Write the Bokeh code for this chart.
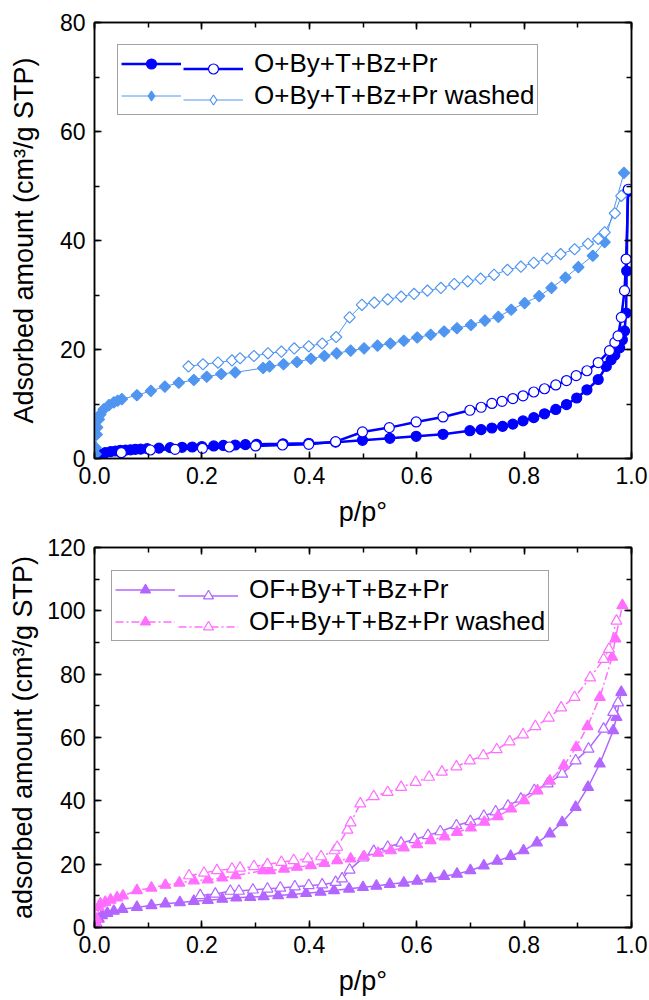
from bokeh.plotting import figure
from bokeh.models import (Range1d, LinearAxis, SingleIntervalTicker, NumeralTickFormatter,
                          Legend, LegendItem, ColumnDataSource)
from bokeh.layouts import column
from bokeh.embed import file_html
from bokeh.resources import INLINE

# ---------------- data: top panel ----------------
top_series_names = ["O+By+T+Bz+Pr", "O+By+T+Bz+Pr washed"]

o_ads_x = [0.004, 0.011, 0.020, 0.030, 0.039, 0.048, 0.058, 0.067, 0.076, 0.086, 0.098, 0.120,
           0.141, 0.163, 0.182, 0.200, 0.222, 0.240, 0.262, 0.281, 0.302, 0.351, 0.399, 0.449,
           0.499, 0.550, 0.599, 0.649, 0.699, 0.720, 0.740, 0.760, 0.779, 0.798, 0.818, 0.838,
           0.859, 0.879, 0.898, 0.917, 0.938, 0.953, 0.962, 0.969, 0.978, 0.983, 0.987, 0.990,
           0.991, 0.993]
o_ads_y = [0.5, 0.77, 1.07, 1.26, 1.38, 1.5, 1.55, 1.6, 1.69, 1.72, 1.81, 1.9, 1.99, 2.05, 2.11,
           2.2, 2.3, 2.4, 2.48, 2.55, 2.6, 2.7, 2.8, 3.0, 3.34, 3.71, 4.07, 4.44, 5.1, 5.3, 5.6,
           5.9, 6.3, 6.9, 7.5, 8.2, 9.0, 9.9, 11.1, 12.6, 14.5, 16.9, 18.1, 19.0, 20.3, 21.8,
           23.4, 26.7, 34.4, 49.0]

o_des_x = [0.050, 0.104, 0.150, 0.201, 0.251, 0.300, 0.350, 0.399, 0.449, 0.499, 0.549, 0.599,
           0.649, 0.699, 0.720, 0.740, 0.759, 0.779, 0.798, 0.818, 0.838, 0.859, 0.879, 0.897,
           0.917, 0.938, 0.959, 0.969, 0.975, 0.981, 0.987, 0.990, 0.994]
o_des_y = [1.07, 1.56, 1.69, 1.87, 2.11, 2.30, 2.48, 2.60, 3.09, 4.87, 5.67, 6.71, 7.63, 8.85,
           9.4, 10.1, 10.5, 11.0, 11.5, 12.2, 12.8, 13.5, 14.3, 15.2, 16.1, 17.6, 19.8, 21.3,
           22.5, 25.9, 30.8, 36.6, 49.4]

ow_ads_x = [0.002, 0.002, 0.004, 0.005, 0.008, 0.011, 0.017, 0.027, 0.036, 0.043, 0.051, 0.079,
            0.105, 0.131, 0.157, 0.185, 0.209, 0.236, 0.262, 0.314, 0.326, 0.352, 0.377, 0.403,
            0.428, 0.451, 0.477, 0.502, 0.527, 0.551, 0.576, 0.601, 0.626, 0.651, 0.675, 0.701,
            0.727, 0.752, 0.776, 0.801, 0.828, 0.851, 0.877, 0.901, 0.928, 0.950, 0.986]
ow_ads_y = [0.8, 2.0, 4.4, 5.7, 7.2, 8.1, 9.0, 9.8, 10.3, 10.6, 10.9, 11.6, 12.4, 13.2, 13.9,
            14.4, 15.0, 15.5, 15.8, 16.6, 16.9, 17.3, 17.7, 18.3, 18.8, 19.3, 19.8, 20.2, 20.7,
            21.1, 21.6, 22.2, 22.7, 23.3, 23.9, 24.5, 25.3, 26.0, 27.3, 28.5, 29.8, 31.3, 33.2,
            35.1, 37.2, 39.7, 52.4]

ow_des_x = [0.175, 0.202, 0.230, 0.256, 0.271, 0.297, 0.323, 0.348, 0.372, 0.399, 0.424, 0.450,
            0.475, 0.498, 0.521, 0.546, 0.571, 0.595, 0.620, 0.645, 0.670, 0.695, 0.719, 0.744,
            0.769, 0.794, 0.818, 0.843, 0.868, 0.894, 0.919, 0.938, 0.950, 0.969, 0.981]
ow_des_y = [16.9, 17.3, 17.6, 18.0, 18.4, 18.8, 19.3, 19.6, 20.2, 20.6, 21.1, 22.3, 25.9, 28.2,
            28.6, 29.2, 29.7, 30.2, 30.8, 31.3, 32.0, 32.5, 33.0, 33.7, 34.6, 35.2, 35.9, 36.7,
            37.5, 38.4, 39.4, 40.3, 41.5, 45.0, 48.2]

# ---------------- data: bottom panel ----------------
bottom_series_names = ["OF+By+T+Bz+Pr", "OF+By+T+Bz+Pr washed"]

of_ads_x = [0.002, 0.004, 0.008, 0.014, 0.024, 0.036, 0.052, 0.079, 0.106, 0.132, 0.159, 0.185,
            0.211, 0.238, 0.264, 0.290, 0.315, 0.342, 0.368, 0.394, 0.421, 0.446, 0.474, 0.500,
            0.525, 0.550, 0.576, 0.601, 0.626, 0.651, 0.675, 0.700, 0.725, 0.750, 0.775, 0.799,
            0.824, 0.848, 0.871, 0.896, 0.919, 0.941, 0.966, 0.972, 0.981]
of_ads_y = [0.8, 1.2, 2.7, 3.8, 4.5, 5.2, 5.8, 6.4, 6.95, 7.5, 7.9, 8.3, 8.6, 9.0, 9.4, 9.6, 9.8,
            10.1, 10.4, 10.8, 11.2, 11.7, 12.2, 12.7, 13.1, 13.7, 14.1, 14.7, 15.4, 16.2, 16.9,
            18.0, 19.5, 21.0, 22.5, 24.3, 26.8, 29.6, 33.2, 38.0, 44.3, 51.7, 62.2, 66.4, 74.3]

of_des_x = [0.197, 0.225, 0.253, 0.269, 0.295, 0.322, 0.346, 0.373, 0.399, 0.424, 0.449, 0.461,
            0.475, 0.500, 0.520, 0.546, 0.571, 0.596, 0.621, 0.644, 0.674, 0.700, 0.725, 0.747,
            0.770, 0.794, 0.819, 0.844, 0.871, 0.896, 0.920, 0.948, 0.966, 0.975]
of_des_y = [10.1, 10.6, 11.5, 11.5, 11.9, 12.2, 12.5, 12.9, 13.3, 13.5, 14.3, 15.4, 18.2, 22.0,
            24.1, 25.4, 26.7, 27.8, 29.1, 30.3, 32.2, 33.5, 35.2, 36.6, 38.4, 40.6, 43.3, 45.4,
            48.5, 52.7, 56.4, 62.7, 68.0, 71.0]

ofw_ads_x = [0.002, 0.004, 0.008, 0.011, 0.020, 0.030, 0.042, 0.053, 0.079, 0.106, 0.132, 0.158,
             0.185, 0.211, 0.238, 0.263, 0.314, 0.327, 0.353, 0.377, 0.403, 0.428, 0.452, 0.477,
             0.502, 0.528, 0.552, 0.576, 0.601, 0.626, 0.652, 0.675, 0.701, 0.726, 0.751, 0.776,
             0.800, 0.825, 0.848, 0.874, 0.897, 0.918, 0.941, 0.964, 0.970, 0.983]
ofw_ads_y = [1.5, 2.7, 6.4, 7.5, 8.0, 8.7, 9.4, 10.0, 11.7, 12.5, 13.4, 14.1, 14.8, 15.1, 15.7,
             16.4, 18.0, 18.0, 18.5, 19.1, 19.6, 20.3, 21.2, 21.7, 22.4, 23.5, 24.3, 25.2, 26.2,
             27.5, 28.7, 30.1, 31.5, 33.3, 35.1, 37.5, 40.1, 43.2, 46.3, 51.1, 56.9, 63.5, 72.7,
             85.4, 91.2, 101.7]

ofw_des_x = [0.176, 0.204, 0.228, 0.256, 0.271, 0.297, 0.322, 0.348, 0.371, 0.397, 0.422, 0.447,
             0.452, 0.471, 0.477, 0.495, 0.520, 0.546, 0.571, 0.598, 0.623, 0.647, 0.674, 0.699,
             0.724, 0.749, 0.773, 0.798, 0.821, 0.846, 0.869, 0.894, 0.923, 0.948, 0.958, 0.972]
ofw_des_y = [16.4, 17.2, 18.0, 18.5, 18.8, 19.3, 19.9, 20.6, 21.2, 21.7, 22.4, 24.3, 25.4, 30.8,
             33.1, 39.1, 41.4, 42.7, 44.3, 45.9, 47.5, 49.1, 50.8, 52.7, 54.3, 56.2, 58.7, 60.9,
             63.5, 66.2, 69.4, 72.7, 78.9, 84.7, 87.9, 96.8]

x_title = "p/p°"
top_y_title = "Adsorbed amount (cm³/g STP)"
bottom_y_title = "adsorbed amount (cm³/g STP)"

# ---------------- styling ----------------
FONT = "Liberation Sans"
W = 649
FRAME_LEFT = 94
FRAME_RIGHT_BORDER = 18
C_BLUE = "#0000FF"
C_LBLUE = "#5096F0"
C_PURPLE = "#B266FF"
C_PINK = "#FF6EFF"


def style_axis(ax, interval, fmt, show_labels=True):
    ax.ticker = SingleIntervalTicker(interval=interval, num_minor_ticks=2)
    ax.formatter = NumeralTickFormatter(format=fmt)
    ax.major_tick_in = 7
    ax.major_tick_out = 0
    ax.minor_tick_in = 5
    ax.minor_tick_out = 0
    ax.axis_line_width = 1.5
    ax.major_tick_line_width = 1.5
    ax.minor_tick_line_width = 1.5
    ax.axis_line_color = "black"
    ax.major_tick_line_color = "black"
    ax.minor_tick_line_color = "black"
    ax.major_label_text_font = FONT
    if show_labels:
        ax.major_label_text_font_size = "23px"
        ax.major_label_text_color = "black"
    else:
        # mirror axis: ticks only, labels not painted
        ax.major_label_text_font_size = "10px"
        ax.major_label_text_color = None
        ax.major_label_standoff = 0
    ax.axis_label_text_font = FONT
    ax.axis_label_text_font_size = "27px"
    ax.axis_label_text_font_style = "normal"
    ax.axis_label_text_color = "black"


def make_fig(height, ymax, border_top, border_bottom, ylabel, ylabel_standoff):
    p = figure(width=W, height=height, x_range=Range1d(0, 1), y_range=Range1d(0, ymax),
               output_backend="svg", toolbar_location=None,
               min_border_left=FRAME_LEFT, min_border_right=FRAME_RIGHT_BORDER,
               min_border_top=border_top, min_border_bottom=border_bottom)
    p.grid.visible = False
    p.outline_line_color = "black"
    p.outline_line_width = 1.5
    p.background_fill_color = "white"
    p.border_fill_color = "white"

    xa = p.xaxis[0]
    style_axis(xa, 0.2, "0.0")
    xa.major_label_standoff = 8
    xa.axis_label = x_title
    xa.axis_label_standoff = 10

    ya = p.yaxis[0]
    style_axis(ya, 20, "0")
    ya.major_label_standoff = 9
    ya.axis_label = ylabel
    ya.axis_label_standoff = ylabel_standoff

    top_ax = LinearAxis()
    style_axis(top_ax, 0.2, "0.0", show_labels=False)
    p.add_layout(top_ax, "above")
    right_ax = LinearAxis()
    style_axis(right_ax, 20, "0", show_labels=False)
    p.add_layout(right_ax, "right")
    return p


def add_series(p, x, y, marker, size, color, lw, filled, angle=0.0, legend_marker=None,
               dash="solid"):
    src = ColumnDataSource(data=dict(x=x, y=y))
    fill = color if filled else "white"
    ln = p.line("x", "y", source=src, line_color=color, line_width=lw, line_dash=dash)
    proxy = None
    if legend_marker is not None:
        # legend swatch shape; drawn tiny and hidden beneath the real markers
        proxy = p.scatter("x", "y", source=src, marker=legend_marker, size=1,
                          fill_color=fill, line_color=color, line_width=1.2)
    sc = p.scatter("x", "y", source=src, marker=marker, size=size, angle=angle,
                   fill_color=fill, line_color=color, line_width=1.2)
    return [ln, proxy if proxy is not None else sc]


def add_legend(p, names, ads_renderers, des_renderers, ax_x, ay, bx_x, standoff):
    common = dict(glyph_width=60, glyph_height=25, label_height=30, spacing=1, padding=3,
                  margin=0, label_text_font=FONT, label_text_font_size="26px",
                  label_text_color="black")
    la = Legend(items=[LegendItem(label=n, renderers=r) for n, r in zip(names, ads_renderers)],
                location=(ax_x, ay), label_standoff=standoff,
                border_line_color="#444444", border_line_width=1,
                background_fill_color="white", background_fill_alpha=1.0, **common)
    lb = Legend(items=[LegendItem(label=dict(value=""), renderers=r) for r in des_renderers],
                location=(bx_x, ay), label_standoff=0, label_width=0,
                border_line_color=None, background_fill_color=None, **common)
    p.add_layout(la)
    p.add_layout(lb)


# ---------------- top panel ----------------
p1 = make_fig(535, 80, 22, 77, top_y_title, 18)
sq = 0.785398
r_o_ads = add_series(p1, o_ads_x, o_ads_y, "circle", 10, C_BLUE, 2.5, True)
r_o_des = add_series(p1, o_des_x, o_des_y, "circle", 10, C_BLUE, 2.5, False)
r_ow_ads = add_series(p1, ow_ads_x, ow_ads_y, "square", 8, C_LBLUE, 1.0, True, angle=sq,
                      legend_marker="diamond")
r_ow_des = add_series(p1, ow_des_x, ow_des_y, "square", 8, C_LBLUE, 1.0, False, angle=sq,
                      legend_marker="diamond")
add_legend(p1, top_series_names, [r_o_ads, r_ow_ads], [r_o_des, r_ow_des],
           23, 343.5, 89, 73)

# ---------------- bottom panel ----------------
p2 = make_fig(465, 120, 12, 73, bottom_y_title, 6)
r_of_ads = add_series(p2, of_ads_x, of_ads_y, "triangle", 11, C_PURPLE, 1.5, True)
r_of_des = add_series(p2, of_des_x, of_des_y, "triangle", 11, C_PURPLE, 1.5, False)
r_ofw_ads = add_series(p2, ofw_ads_x, ofw_ads_y, "triangle", 11, C_PINK, 1.5, True,
                       dash="8 3 2 3")
r_ofw_des = add_series(p2, ofw_des_x, ofw_des_y, "triangle", 11, C_PINK, 1.5, False,
                       dash="8 3 2 3")
add_legend(p2, bottom_series_names, [r_of_ads, r_ofw_ads], [r_of_des, r_ofw_des],
           17, 286, 84, 74)

layout = column(p1, p2, spacing=0)
open("out.html", "w").write(file_html(layout, INLINE))
